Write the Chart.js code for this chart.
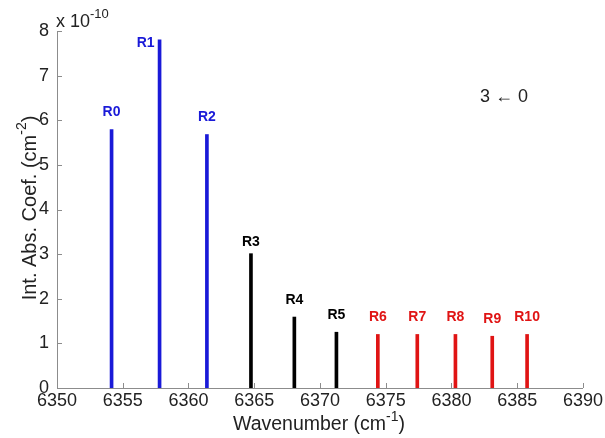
<!DOCTYPE html>
<html>
<head>
<meta charset="utf-8">
<script src="https://cdn.jsdelivr.net/npm/chart.js@4/dist/chart.umd.min.js"></script>
<style>
  html, body { margin: 0; padding: 0; background: #fff; }
  #wrap { width: 605px; height: 438px; }
</style>
</head>
<body>
<div id="wrap"><canvas id="lines" width="605" height="438"></canvas></div>
<script>
// line labels, positions (cm-1) and integrated absorption coefficients (x 1e-10 cm-2)
const lineNames = ['R0', 'R1', 'R2', 'R3', 'R4', 'R5', 'R6', 'R7', 'R8', 'R9', 'R10'];
const wavenumbers = [6354.15, 6357.8, 6361.4, 6364.75, 6368.05, 6371.25, 6374.4, 6377.4, 6380.3, 6383.1, 6385.75];
const intensities = [5.79, 7.8, 5.68, 3.01, 1.59, 1.25, 1.2, 1.2, 1.2, 1.16, 1.2];
const lineColors = ['#1a1ad8', '#1a1ad8', '#1a1ad8', '#000000', '#000000', '#000000',
                    '#e01414', '#e01414', '#e01414', '#e01414', '#e01414'];
const xTicks = [6350, 6355, 6360, 6365, 6370, 6375, 6380, 6385, 6390];
const yTicks = [0, 1, 2, 3, 4, 5, 6, 7, 8];

const FONT = '"Liberation Sans", Arial, sans-serif';
const AXIS = '#8c8c8c';
const TEXT = '#222';

// text followed by a superscript and a tail
function supText(ctx, main, sup, tail, x, y, size, align) {
  ctx.font = size + 'px ' + FONT;
  const w1 = ctx.measureText(main).width;
  ctx.font = Math.round(size * 0.7) + 'px ' + FONT;
  const w2 = ctx.measureText(sup).width;
  ctx.font = size + 'px ' + FONT;
  const w3 = ctx.measureText(tail).width;
  let x0 = x;
  if (align === 'center') x0 = x - (w1 + w2 + w3) / 2;
  ctx.textAlign = 'left';
  ctx.textBaseline = 'middle';
  ctx.fillText(main, x0, y);
  ctx.font = Math.round(size * 0.7) + 'px ' + FONT;
  ctx.fillText(sup, x0 + w1, y - size * 0.4);
  ctx.font = size + 'px ' + FONT;
  ctx.fillText(tail, x0 + w1 + w2, y);
}

const extras = {
  id: 'extras',
  afterDraw(chart) {
    const ctx = chart.ctx;
    const xs = chart.scales.x, ys = chart.scales.y;
    const area = chart.chartArea;
    ctx.save();

    // inward tick marks
    ctx.strokeStyle = AXIS;
    ctx.lineWidth = 1;
    ctx.beginPath();
    xTicks.forEach(v => {
      const px = Math.round(xs.getPixelForValue(v)) + 0.5;
      ctx.moveTo(px, area.bottom);
      ctx.lineTo(px, area.bottom - 5);
    });
    yTicks.forEach(v => {
      const py = Math.round(ys.getPixelForValue(v)) + 0.5;
      ctx.moveTo(area.left, py);
      ctx.lineTo(area.left + 5, py);
    });
    ctx.stroke();

    // line labels
    ctx.font = 'bold 14px ' + FONT;
    ctx.textBaseline = 'middle';
    lineNames.forEach((name, i) => {
      const px = xs.getPixelForValue(wavenumbers[i]);
      const py = ys.getPixelForValue(intensities[i]);
      ctx.fillStyle = lineColors[i];
      if (i === 1) {
        ctx.textAlign = 'right';
        ctx.fillText(name, px - 5, py + 3);
      } else {
        ctx.textAlign = 'center';
        ctx.fillText(name, px, py - (i === 3 ? 12 : 17));
      }
    });

    ctx.fillStyle = TEXT;
    // exponent label
    supText(ctx, 'x 10', '-10', '', area.left - 1, 22, 18, 'left');
    // band label
    ctx.font = '18px ' + FONT;
    ctx.textAlign = 'left';
    ctx.fillText('3 \u2190 0', 480, 97);
    // x axis title
    supText(ctx, 'Wavenumber (cm', '-1', ')', 319, 425, 19.5, 'center');
    // y axis title
    ctx.translate(30, 208);
    ctx.rotate(-Math.PI / 2);
    supText(ctx, 'Int. Abs. Coef. (cm', '-2', ')', 0, 0, 20, 'center');
    ctx.restore();
  }
};

new Chart(document.getElementById('lines'), {
  type: 'bar',
  data: {
    datasets: [{
      data: wavenumbers.map((w, i) => ({ x: w, y: intensities[i] })),
      backgroundColor: lineColors,
      barThickness: 3
    }]
  },
  options: {
    responsive: false,
    animation: false,
    layout: { padding: { top: 31, right: 21, left: 0, bottom: 0 } },
    plugins: { legend: { display: false }, tooltip: { enabled: false } },
    scales: {
      x: {
        type: 'linear',
        offset: false,
        min: 6350,
        max: 6390,
        afterBuildTicks: s => { s.ticks = xTicks.map(v => ({ value: v })); },
        afterFit: s => { s.height = 50; },
        grid: { display: false, drawTicks: false, offset: false },
        border: { display: true, color: AXIS, width: 1 },
        ticks: { font: { family: FONT, size: 18 }, color: TEXT, padding: 2, maxRotation: 0,
                 callback: v => String(v) }
      },
      y: {
        min: 0,
        max: 8,
        afterBuildTicks: s => { s.ticks = yTicks.map(v => ({ value: v })); },
        afterFit: s => { s.width = 57; },
        grid: { display: false, drawTicks: false },
        border: { display: true, color: AXIS, width: 1 },
        ticks: { font: { family: FONT, size: 18 }, color: TEXT, padding: 8 }
      }
    }
  },
  plugins: [extras]
});
</script>
</body>
</html>
